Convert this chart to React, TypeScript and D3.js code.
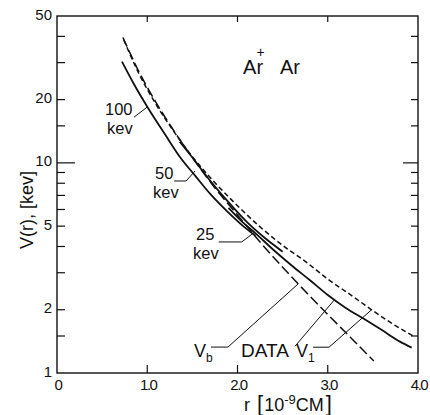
import React from "react";
import * as d3 from "d3";

// r in units of 10^-9 cm, V in keV
const rVb = [0.73, 0.9, 1.1, 1.3, 1.5, 1.75, 2.0, 2.25, 2.5, 2.75, 3.0, 3.25, 3.51];
const vVb = [39.5, 27.6, 19.3, 14.1, 10.6, 7.6, 5.65, 4.2, 3.19, 2.45, 1.9, 1.48, 1.14];

const rV1 = [0.74, 0.9, 1.1, 1.3, 1.5, 1.75, 2.0, 2.25, 2.5, 2.75, 3.0, 3.25, 3.5, 3.75, 3.96];
const vV1 = [38.5, 27.0, 18.9, 14.0, 10.7, 8.05, 6.25, 4.96, 4.05, 3.4, 2.8, 2.36, 1.98, 1.68, 1.49];

const r100 = [0.72, 0.85, 1.0, 1.2, 1.36, 1.53, 1.7, 1.9, 2.1, 2.2];
const v100 = [30.3, 23.8, 18.5, 13.6, 10.7, 8.7, 7.1, 5.8, 4.85, 4.5];

const r50 = [1.36, 1.5, 1.7, 1.9, 2.1, 2.3, 2.5];
const v50 = [12.6, 10.6, 8.2, 6.5, 5.25, 4.4, 3.78];

const r25 = [1.9, 2.05, 2.2, 2.4, 2.6, 2.8, 3.0, 3.2, 3.4, 3.6, 3.8, 3.93];
const v25 = [6.1, 5.25, 4.62, 3.85, 3.25, 2.77, 2.35, 2.04, 1.81, 1.6, 1.41, 1.32];

const xTickValues = [0, 1, 2, 3, 4];
const xTickLabels = ["0", "1.0", "2.0", "3.0", "4.0"];
const yLabelValues = [1, 2, 5, 10, 20, 50];
const yMinorValues = [1.5, 2, 3, 4, 5, 6, 7, 8, 9, 15, 20, 30, 40];
const yLongValues = [10];

const FONT = "'Liberation Sans', Arial, sans-serif";

export default function App() {
  const x = d3.scaleLinear().domain([0, 4]).range([57, 418]);
  const y = d3.scaleLog().domain([1, 50]).range([373, 16]);
  const line = d3
    .line<[number, number]>()
    .x((d) => x(d[0]))
    .y((d) => y(d[1]))
    .curve(d3.curveMonotoneX);
  const pts = (rs: number[], vs: number[]) => rs.map((r, i) => [r, vs[i]] as [number, number]);

  // annotation leaders: target on curve in data units, elbows in px offsets
  const lead = (r: number, v: number, offs: [number, number][]) => {
    const tx = x(r), ty = y(v);
    const p = offs.map(([dx, dy]) => `${tx + dx},${ty + dy}`);
    return [...p, `${tx},${ty}`].join(" ");
  };

  const L = 57, R = 418, T = 16, B = 373;
  const stroke = "#111";

  return (
    <svg
      width={430}
      height={415}
      style={{ position: "absolute", left: 0, top: 0, background: "#fff" }}
      fontFamily={FONT}
    >
      <rect x={0} y={0} width={430} height={415} fill="#fff" />
      {/* frame */}
      <rect x={L} y={T} width={R - L} height={B - T} fill="none" stroke={stroke} strokeWidth={1.4} />
      {/* y ticks */}
      {yMinorValues.map((v) => (
        <g key={"ym" + v}>
          <line x1={L} x2={L + 8} y1={y(v)} y2={y(v)} stroke={stroke} strokeWidth={1.2} />
          <line x1={R} x2={R - 7} y1={y(v)} y2={y(v)} stroke={stroke} strokeWidth={1.2} />
        </g>
      ))}
      {yLongValues.map((v) => (
        <g key={"yl" + v}>
          <line x1={L} x2={L + 18} y1={y(v)} y2={y(v)} stroke={stroke} strokeWidth={1.2} />
          <line x1={R} x2={R - 15} y1={y(v)} y2={y(v)} stroke={stroke} strokeWidth={1.2} />
        </g>
      ))}
      {yLabelValues.map((v) => (
        <text key={"yt" + v} x={L - 5} y={y(v) + 3.5} fontSize={15} textAnchor="end" fill={stroke}>
          {v}
        </text>
      ))}
      {/* x ticks */}
      {xTickValues.slice(1, -1).map((v) => (
        <g key={"xt" + v}>
          <line x1={x(v)} x2={x(v)} y1={B} y2={B - 8} stroke={stroke} strokeWidth={1.2} />
          <line x1={x(v)} x2={x(v)} y1={T} y2={T + 6} stroke={stroke} strokeWidth={1.2} />
        </g>
      ))}
      {xTickValues.map((v, i) => (
        <text key={"xl" + v} x={x(v) + 1} y={390} fontSize={15} textAnchor="middle" letterSpacing={-1.5} fill={stroke}>
          {xTickLabels[i]}
        </text>
      ))}
      {/* axis titles */}
      <text x={244} y={411} fontSize={18} fill={stroke}>
        r
        <tspan dx={7} fontSize={22}>[</tspan>
        <tspan dx={1}>10</tspan>
        <tspan dy={-7} fontSize={13}>-9</tspan>
        <tspan dy={7}>CM</tspan>
        <tspan dx={2} fontSize={22}>]</tspan>
      </text>
      <text transform="translate(33,210) rotate(-90)" fontSize={18} textAnchor="middle" fill={stroke}>
        V(r), [kev]
      </text>
      {/* species label */}
      <text y={74} fontSize={20} fill={stroke}>
        <tspan x={243}>A</tspan>
        <tspan x={256.5} dy={-17} fontSize={14}>+</tspan>
        <tspan x={256.5} dy={17}>r</tspan>
        <tspan x={280}>Ar</tspan>
      </text>

      {/* curves */}
      <path d={line(pts(rVb, vVb)) || ""} fill="none" stroke={stroke} strokeWidth={1.5} strokeDasharray="10 4" />
      <path d={line(pts(rV1, vV1)) || ""} fill="none" stroke={stroke} strokeWidth={1.5} strokeDasharray="5 3" />
      <path d={line(pts(r100, v100)) || ""} fill="none" stroke={stroke} strokeWidth={1.8} />
      <path d={line(pts(r50, v50)) || ""} fill="none" stroke={stroke} strokeWidth={1.8} />
      <path d={line(pts(r25, v25)) || ""} fill="none" stroke={stroke} strokeWidth={1.8} />

      {/* annotations */}
      <g fill="none" stroke={stroke} strokeWidth={1}>
        <polyline points={lead(0.997, 18.4, [[-13, 10]])} />
        <polyline points={lead(1.53, 9.15, [[-21, 10], [-9, 10]])} />
        <polyline points={lead(2.18, 4.64, [[-35, 9], [-12, 9]])} />
        <polyline points={lead(2.67, 2.65, [[-87, 63], [-70, 63]])} />
        <polyline points={lead(3.07, 2.22, [[-39, 46]])} />
        <polyline points={lead(3.48, 1.99, [[-58, 37], [-42, 37]])} />
      </g>
      <g fill={stroke} fontSize={16.5}>
        <text x={105} y={115}>100</text>
        <text x={107} y={134}>kev</text>
        <text x={155} y={179}>50</text>
        <text x={153} y={198}>kev</text>
        <text x={196} y={240}>25</text>
        <text x={193} y={259}>kev</text>
        <text x={194} y={357} fontSize={18}>V<tspan fontSize={12} dy={5}>b</tspan></text>
        <text x={241} y={357} fontSize={19}>DATA</text>
        <text x={296} y={357} fontSize={18}>V<tspan fontSize={12} dy={5}>1</tspan></text>
      </g>
    </svg>
  );
}
